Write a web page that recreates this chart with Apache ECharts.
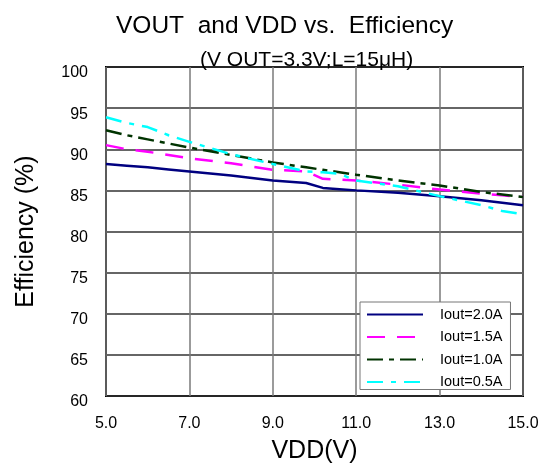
<!DOCTYPE html>
<html>
<head>
<meta charset="utf-8">
<script src="https://cdn.jsdelivr.net/npm/echarts@6/dist/echarts.min.js"></script>
<style>
  html, body { margin: 0; padding: 0; background: #fff; }
  #chart { width: 545px; height: 464px; }
</style>
</head>
<body>
<div id="chart"></div>
<script>
var vdd = [5, 5.5, 6, 6.5, 7, 8, 9, 9.8, 10.2, 10.6, 11, 12, 13, 14, 14.5, 15];
var iout20 = [88.2, 88.0, 87.8, 87.55, 87.3, 86.8, 86.2, 85.9, 85.3, 85.15, 85.0, 84.7, 84.3, 83.8, 83.5, 83.2];
var iout15 = [90.5, 90.0, 89.7, 89.3, 88.9, 88.3, 87.5, 87.3, 86.4, 86.3, 86.2, 85.7, 85.1, 84.6, 84.4, 84.2];
var iout10 = [92.3, 91.7, 91.2, 90.7, 90.2, 89.3, 88.4, 87.8, 87.5, 87.2, 86.9, 86.2, 85.6, 84.8, 84.5, 84.2];
var iout05 = [93.9, 93.2, 92.7, 91.7, 90.9, 89.4, 88.2, 87.3, 87.2, 87.0, 86.2, 85.5, 84.3, 83.2, 82.5, 82.1];
var names = ["Iout=2.0A", "Iout=1.5A", "Iout=1.0A", "Iout=0.5A"];

function pairs(ys) {
  return vdd.map(function (x, i) { return [x, ys[i]]; });
}

var font = "Liberation Sans, Arial, sans-serif";
var myChart = echarts.init(document.getElementById("chart"));

var option = {
  animation: false,
  backgroundColor: "#fff",
  title: [
    {
      text: "VOUT  and VDD vs.  Efficiency",
      left: 111,
      top: 9,
      textStyle: { fontFamily: font, fontSize: 24.5, fontWeight: "normal", color: "#000" }
    },
    {
      text: "(V OUT=3.3V;L=15\u03bcH)",
      left: 195,
      top: 45,
      textStyle: { fontFamily: font, fontSize: 21, fontWeight: "normal", color: "#000" }
    }
  ],
  grid: {
    left: 106,
    right: 22,
    top: 67,
    bottom: 68,
    outerBoundsMode: "none",
    show: true,
    borderColor: "#000",
    borderWidth: 2
  },
  legend: {
    orient: "vertical",
    left: 360,
    top: 302,
    itemWidth: 56,
    itemHeight: 14,
    itemGap: 7.5,
    padding: [5, 8, 0, 6],
    backgroundColor: "#fff",
    borderColor: "#777",
    borderWidth: 1,
    borderRadius: 0,
    itemStyle: { opacity: 0 },
    textStyle: { fontFamily: font, fontSize: 14.5, color: "#000", padding: [0, 0, 0, 12] },
    data: names
  },
  xAxis: {
    type: "value",
    min: 5,
    max: 15,
    interval: 2,
    name: "VDD(V)",
    nameLocation: "middle",
    nameGap: 43,
    nameMoveOverlap: false,
    nameTextStyle: { fontFamily: font, fontSize: 25, color: "#000" },
    axisLine: { show: false },
    axisTick: { show: false },
    axisLabel: {
      margin: 20,
      fontFamily: font,
      fontSize: 16,
      color: "#000",
      formatter: function (v) { return v.toFixed(1); }
    },
    splitLine: { show: true, lineStyle: { color: "#7a7a7a", width: 1.5 } }
  },
  yAxis: {
    type: "value",
    min: 60,
    max: 100,
    interval: 5,
    name: "Efficiency (%)",
    nameLocation: "middle",
    nameGap: 67,
    nameMoveOverlap: false,
    nameTextStyle: { fontFamily: font, fontSize: 25, color: "#000" },
    axisLine: { show: false },
    axisTick: { show: false },
    axisLabel: {
      margin: 18,
      fontFamily: font,
      fontSize: 16,
      color: "#000",
      verticalAlign: "top",
      lineHeight: 12
    },
    splitLine: { show: true, lineStyle: { color: "#333", width: 1.5 } }
  },
  series: [
    {
      name: names[0],
      type: "line",
      data: pairs(iout20),
      symbol: "none",
      lineStyle: { color: "#000080", width: 2.5, type: "solid" },
      itemStyle: { color: "#000080" }
    },
    {
      name: names[1],
      type: "line",
      data: pairs(iout15),
      symbol: "none",
      lineStyle: { color: "#ff00ff", width: 2.5, type: [18, 12] },
      itemStyle: { color: "#ff00ff" }
    },
    {
      name: names[2],
      type: "line",
      data: pairs(iout10),
      symbol: "none",
      lineStyle: { color: "#003300", width: 2.5, type: [16, 6, 5, 6] },
      itemStyle: { color: "#003300" }
    },
    {
      name: names[3],
      type: "line",
      data: pairs(iout05),
      symbol: "none",
      lineStyle: { color: "#00ffff", width: 2.5, type: [16, 8, 5, 8] },
      itemStyle: { color: "#00ffff" }
    }
  ]
};
myChart.setOption(option);
</script>
</body>
</html>
